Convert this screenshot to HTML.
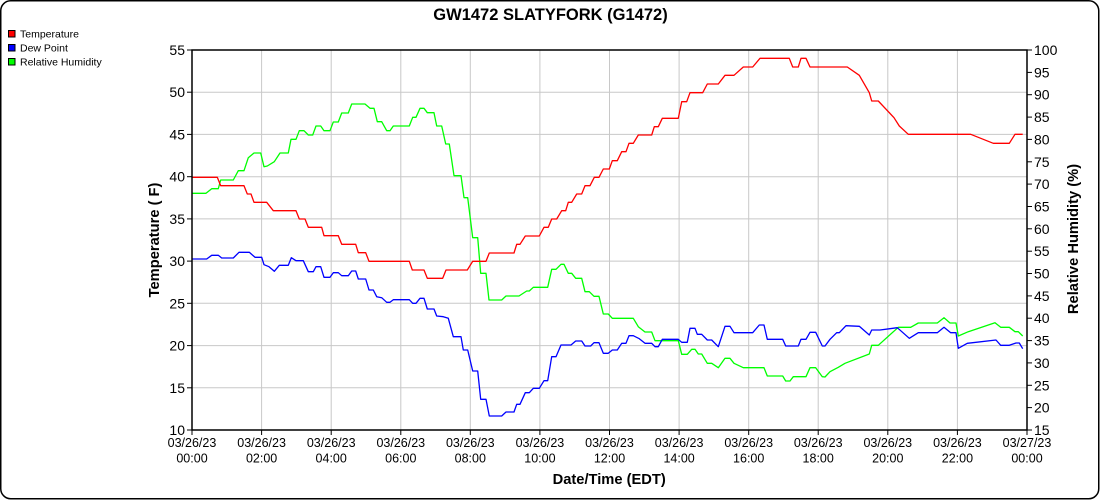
<!DOCTYPE html>
<html><head><meta charset="utf-8"><style>
html,body{margin:0;padding:0;background:#fff;}
svg{display:block;font-family:"Liberation Sans",Arial,sans-serif;}
</style></head><body>
<svg width="1100" height="500" viewBox="0 0 1100 500" xmlns="http://www.w3.org/2000/svg">
<rect x="0.75" y="0.75" width="1098" height="498" rx="10" ry="10" fill="#fff" stroke="#000" stroke-width="1.5"/>
<text x="550.5" y="20" font-size="16.5" font-weight="bold" text-anchor="middle">GW1472 SLATYFORK (G1472)</text>
<!-- legend -->
<rect x="8.5" y="30.5" width="6.5" height="6.5" fill="#ff0000" stroke="#000" stroke-width="1"/>
<text x="20" y="37.5" font-size="10.5">Temperature</text>
<rect x="8.5" y="44.5" width="6.5" height="6.5" fill="#0000ff" stroke="#000" stroke-width="1"/>
<text x="20" y="51.5" font-size="10.5">Dew Point</text>
<rect x="8.5" y="58.5" width="6.5" height="6.5" fill="#00ff00" stroke="#000" stroke-width="1"/>
<text x="20" y="65.5" font-size="10.5">Relative Humidity</text>
<!-- grid -->
<g stroke="#c8c8c8" stroke-width="1">
<line x1="192" y1="92.2" x2="1027" y2="92.2"/>
<line x1="192" y1="134.4" x2="1027" y2="134.4"/>
<line x1="192" y1="176.7" x2="1027" y2="176.7"/>
<line x1="192" y1="218.9" x2="1027" y2="218.9"/>
<line x1="192" y1="261.1" x2="1027" y2="261.1"/>
<line x1="192" y1="303.3" x2="1027" y2="303.3"/>
<line x1="192" y1="345.6" x2="1027" y2="345.6"/>
<line x1="192" y1="387.8" x2="1027" y2="387.8"/>
<line x1="261.6" y1="50" x2="261.6" y2="430"/>
<line x1="331.2" y1="50" x2="331.2" y2="430"/>
<line x1="400.8" y1="50" x2="400.8" y2="430"/>
<line x1="470.3" y1="50" x2="470.3" y2="430"/>
<line x1="539.9" y1="50" x2="539.9" y2="430"/>
<line x1="609.5" y1="50" x2="609.5" y2="430"/>
<line x1="679.1" y1="50" x2="679.1" y2="430"/>
<line x1="748.7" y1="50" x2="748.7" y2="430"/>
<line x1="818.2" y1="50" x2="818.2" y2="430"/>
<line x1="887.8" y1="50" x2="887.8" y2="430"/>
<line x1="957.4" y1="50" x2="957.4" y2="430"/>
</g>
<!-- series -->
<g fill="none" stroke-width="1.3" stroke-linejoin="round">
<polyline stroke="#00ff00" points="192.5,193.3 206,193.3 211.7,188.7 218.3,188.7 220.7,180 233.3,180 238.3,170.7 244,170.7 248.3,157.7 254,153 260.7,153 264,166.7 267.3,166 274.3,161.7 280,153 288.3,153 291,139.3 296,139.3 299.3,130.7 304,130.7 308.3,135 312.7,135 316,126 320.7,126 324,130.7 330,130.7 333.3,122 338.3,122 341.7,113 348.3,113 351.7,104 365,104 370,108.3 374,108.3 377.3,121.7 381.7,121.7 386.7,130.7 390,130.7 393.3,126 409.3,126 412.7,117.3 416,117.3 420,108.3 424,108.3 427.3,112.7 434,112.7 436.7,126 441.7,126 445.7,144 449.3,144 454,175.7 461,175.7 464,197.7 467.7,197.7 472.7,237.7 477.7,237.7 480.7,273.3 486,273.3 489,300 501.7,300 506,296 519,296 526.7,291 529.3,291 533.3,287.3 547.7,287.3 551.7,269.3 556,269.3 561,264.3 564,264.3 568.3,273.3 571.7,273.3 575.7,278.3 581.7,278.3 585,291.7 589.3,291.7 594,296.3 599,296.3 603.3,314 608.3,314 612.3,318.3 633.3,318.3 638.3,326.7 645,332 651.7,332 655,340.7 678.3,340.7 681.7,354.3 687.3,354.3 691.7,349.3 695,349.3 698.3,354 701.7,354 707.3,363.3 711.7,363.3 718.3,367.7 725,358.3 730,358.3 734,363.3 743.3,367.7 764,367.7 767.3,376 782.7,376 785.7,381 790,381 793.3,376.7 806,376.7 810,367.7 815.7,367.7 822.3,376.7 825,377 830,371.7 838.3,367.3 845,363.3 869.3,354 871.7,345.3 878.3,345.3 898.3,327.3 910.7,327.3 918.3,323 937.3,323 944,317.7 950,323 956,323 958.3,336 968.3,331.7 995,322.7 1000.7,327.3 1009.3,327.3 1015,331.7 1018.3,331.7 1022.7,336"/>
<polyline stroke="#0000ff" points="192.5,259 206.7,259 211.7,255.3 218.3,255.3 221.7,258 233.3,258 239,252.3 249.3,252.3 255,257.3 261.7,257.3 264,264.7 269,266.7 274.3,271.3 279.3,265.3 288.3,265.3 291.3,257.7 296,260.7 303.3,260.7 308.3,271.7 313.3,271.7 316,266.7 320.7,266.7 324,277.3 330,277.3 333.3,272.7 338.3,272.7 341.7,275.7 348.3,275.7 351.7,271 355.7,271 358.3,279 365.7,279 369,290 373.3,290 376.7,296.7 381.7,297.7 386.7,302.3 390,302.3 393.3,299.7 409.3,299.7 412.7,303.3 416,303.3 420,298.3 424,298.3 427.3,309 434,309 436.7,316 443.3,316.7 448.3,318.3 453.3,336.7 461,336.7 463.3,350 467.7,350 472.7,371 477.7,371 480.7,399.3 486,399.3 489.3,416 501.7,416 506,412 514,412 516.7,404.3 520,404.3 525.3,392.7 529.3,392.7 533.3,388.3 539.3,388.3 544,380.7 547.7,380.7 551.7,356.7 556,356.7 561,345 571,345 575.7,341 581.7,341 585,346 590.7,346 594,342.7 599,342.7 603.3,353.3 608.3,353.3 612.3,350 617.3,350 621.7,343.3 626,343.3 629,335.7 633.3,335.7 639.3,338.7 645,343.3 651.7,343.3 655,346.7 658.3,346.7 662.3,339.3 678.3,339.3 681.7,342.3 687.3,342.3 690,328.3 695,328.3 697.3,334.3 701.7,334.3 707.3,340 711.7,340 718.3,346.7 725,326.3 730,326.3 734,332.7 752.7,332.7 759.3,325 764,325 767.3,339.3 782.7,339.3 785.7,346 798.3,346 801,339.3 806,339.3 810,332.3 815.7,332.3 822.3,346 825,346 830,339.3 836.7,332.7 839.3,332.7 846,325.7 859.3,326.3 869.3,335 871.7,330 880,330 897.3,327.7 909.3,338.3 918.3,332.7 937.3,332.7 944,327.3 950.7,332.7 956,332.7 958.3,348.3 967.3,343.3 996,340 1000.7,345.3 1009.3,345.3 1016,343 1019.3,343 1022.7,348.7"/>
<polyline stroke="#ff0000" points="192.5,177.3 217.3,177.3 220.7,185.7 244,185.7 247.3,194 251,194 254,202.3 266.7,202.3 273.3,210.7 296,210.7 299.3,219 305,219 308.3,227.3 321.7,227.3 324,235.7 338.3,235.7 341.7,244.3 355.7,244.3 358.3,252.7 365.7,252.7 369,261.3 409.3,261.3 412.3,270 424,270 427.3,278.3 442.7,278.3 446,270 467.3,270 472.7,261.3 486,261.3 489.3,253 514,253 516.7,244.3 520,244.3 525.3,236 539.3,236 544,227.3 548.3,227.3 551.7,219 556.7,219 561.7,210.7 565.7,210.7 568.3,202.3 571.7,202.3 576.7,194 581.7,194 585,185.7 590,185.7 594.3,177.3 599,177.3 603.3,169 609.3,169 612.3,160.7 617.3,160.7 621.7,151.7 626,151.7 629,143.3 633.3,143.3 638.3,135 651.7,135 654.3,126.7 658.3,126.7 662.3,118.3 678.3,118.3 681.7,101.7 686.7,101.7 690,92.7 702.7,92.7 707.3,84 718.3,84 725,75.3 734,75.3 743.3,67 752.7,67 760,58.3 789.3,58.3 792.7,67 798.3,67 801,58.3 806,58.3 810,67 847.3,67 859.3,75.3 869.3,92.7 871.7,101 878.3,101 894,117.7 899.3,126 908.3,134.3 970.7,134.3 993.3,143.3 1009.3,143.3 1015,134.3 1022.7,134.3"/>
</g>
<!-- axes frame -->
<rect x="192" y="50" width="835" height="380" fill="none" stroke="#000" stroke-width="1.5"/>
<!-- left ticks -->
<g stroke="#000" stroke-width="1">
<line x1="187" y1="50" x2="192" y2="50"/><line x1="187" y1="92.2" x2="192" y2="92.2"/><line x1="187" y1="134.4" x2="192" y2="134.4"/><line x1="187" y1="176.7" x2="192" y2="176.7"/><line x1="187" y1="218.9" x2="192" y2="218.9"/><line x1="187" y1="261.1" x2="192" y2="261.1"/><line x1="187" y1="303.3" x2="192" y2="303.3"/><line x1="187" y1="345.6" x2="192" y2="345.6"/><line x1="187" y1="387.8" x2="192" y2="387.8"/><line x1="187" y1="430" x2="192" y2="430"/>
<line x1="1027" y1="50" x2="1032" y2="50"/><line x1="1027" y1="72.4" x2="1032" y2="72.4"/><line x1="1027" y1="94.7" x2="1032" y2="94.7"/><line x1="1027" y1="117.1" x2="1032" y2="117.1"/><line x1="1027" y1="139.4" x2="1032" y2="139.4"/><line x1="1027" y1="161.8" x2="1032" y2="161.8"/><line x1="1027" y1="184.1" x2="1032" y2="184.1"/><line x1="1027" y1="206.5" x2="1032" y2="206.5"/><line x1="1027" y1="228.8" x2="1032" y2="228.8"/><line x1="1027" y1="251.2" x2="1032" y2="251.2"/><line x1="1027" y1="273.5" x2="1032" y2="273.5"/><line x1="1027" y1="295.9" x2="1032" y2="295.9"/><line x1="1027" y1="318.2" x2="1032" y2="318.2"/><line x1="1027" y1="340.6" x2="1032" y2="340.6"/><line x1="1027" y1="362.9" x2="1032" y2="362.9"/><line x1="1027" y1="385.3" x2="1032" y2="385.3"/><line x1="1027" y1="407.6" x2="1032" y2="407.6"/><line x1="1027" y1="430" x2="1032" y2="430"/>
<line x1="192" y1="430" x2="192" y2="435"/><line x1="261.6" y1="430" x2="261.6" y2="435"/><line x1="331.2" y1="430" x2="331.2" y2="435"/><line x1="400.8" y1="430" x2="400.8" y2="435"/><line x1="470.3" y1="430" x2="470.3" y2="435"/><line x1="539.9" y1="430" x2="539.9" y2="435"/><line x1="609.5" y1="430" x2="609.5" y2="435"/><line x1="679.1" y1="430" x2="679.1" y2="435"/><line x1="748.7" y1="430" x2="748.7" y2="435"/><line x1="818.2" y1="430" x2="818.2" y2="435"/><line x1="887.8" y1="430" x2="887.8" y2="435"/><line x1="957.4" y1="430" x2="957.4" y2="435"/><line x1="1027" y1="430" x2="1027" y2="435"/>
</g>
<!-- left labels -->
<g font-size="14" text-anchor="end">
<text x="185" y="55">55</text><text x="185" y="97.2">50</text><text x="185" y="139.4">45</text><text x="185" y="181.7">40</text><text x="185" y="223.9">35</text><text x="185" y="266.1">30</text><text x="185" y="308.3">25</text><text x="185" y="350.6">20</text><text x="185" y="392.8">15</text><text x="185" y="435">10</text>
</g>
<g font-size="14" text-anchor="start">
<text x="1034" y="55">100</text><text x="1034" y="77.4">95</text><text x="1034" y="99.7">90</text><text x="1034" y="122.1">85</text><text x="1034" y="144.4">80</text><text x="1034" y="166.8">75</text><text x="1034" y="189.1">70</text><text x="1034" y="211.5">65</text><text x="1034" y="233.8">60</text><text x="1034" y="256.2">55</text><text x="1034" y="278.5">50</text><text x="1034" y="300.9">45</text><text x="1034" y="323.2">40</text><text x="1034" y="345.6">35</text><text x="1034" y="367.9">30</text><text x="1034" y="390.3">25</text><text x="1034" y="412.6">20</text><text x="1034" y="435">15</text>
</g>
<g font-size="12.5" text-anchor="middle">
<text x="192" y="447">03/26/23</text><text x="192" y="462.5">00:00</text>
<text x="261.6" y="447">03/26/23</text><text x="261.6" y="462.5">02:00</text>
<text x="331.2" y="447">03/26/23</text><text x="331.2" y="462.5">04:00</text>
<text x="400.8" y="447">03/26/23</text><text x="400.8" y="462.5">06:00</text>
<text x="470.3" y="447">03/26/23</text><text x="470.3" y="462.5">08:00</text>
<text x="539.9" y="447">03/26/23</text><text x="539.9" y="462.5">10:00</text>
<text x="609.5" y="447">03/26/23</text><text x="609.5" y="462.5">12:00</text>
<text x="679.1" y="447">03/26/23</text><text x="679.1" y="462.5">14:00</text>
<text x="748.7" y="447">03/26/23</text><text x="748.7" y="462.5">16:00</text>
<text x="818.2" y="447">03/26/23</text><text x="818.2" y="462.5">18:00</text>
<text x="887.8" y="447">03/26/23</text><text x="887.8" y="462.5">20:00</text>
<text x="957.4" y="447">03/26/23</text><text x="957.4" y="462.5">22:00</text>
<text x="1027" y="447">03/27/23</text><text x="1027" y="462.5">00:00</text>
</g>
<g font-size="14.7" font-weight="bold" text-anchor="middle">
<text x="609.2" y="484">Date/Time (EDT)</text>
<text transform="translate(159,240) rotate(-90)">Temperature ( F)</text>
<text transform="translate(1078,239) rotate(-90)">Relative Humidity (%)</text>
</g>
</svg>
</body></html>
